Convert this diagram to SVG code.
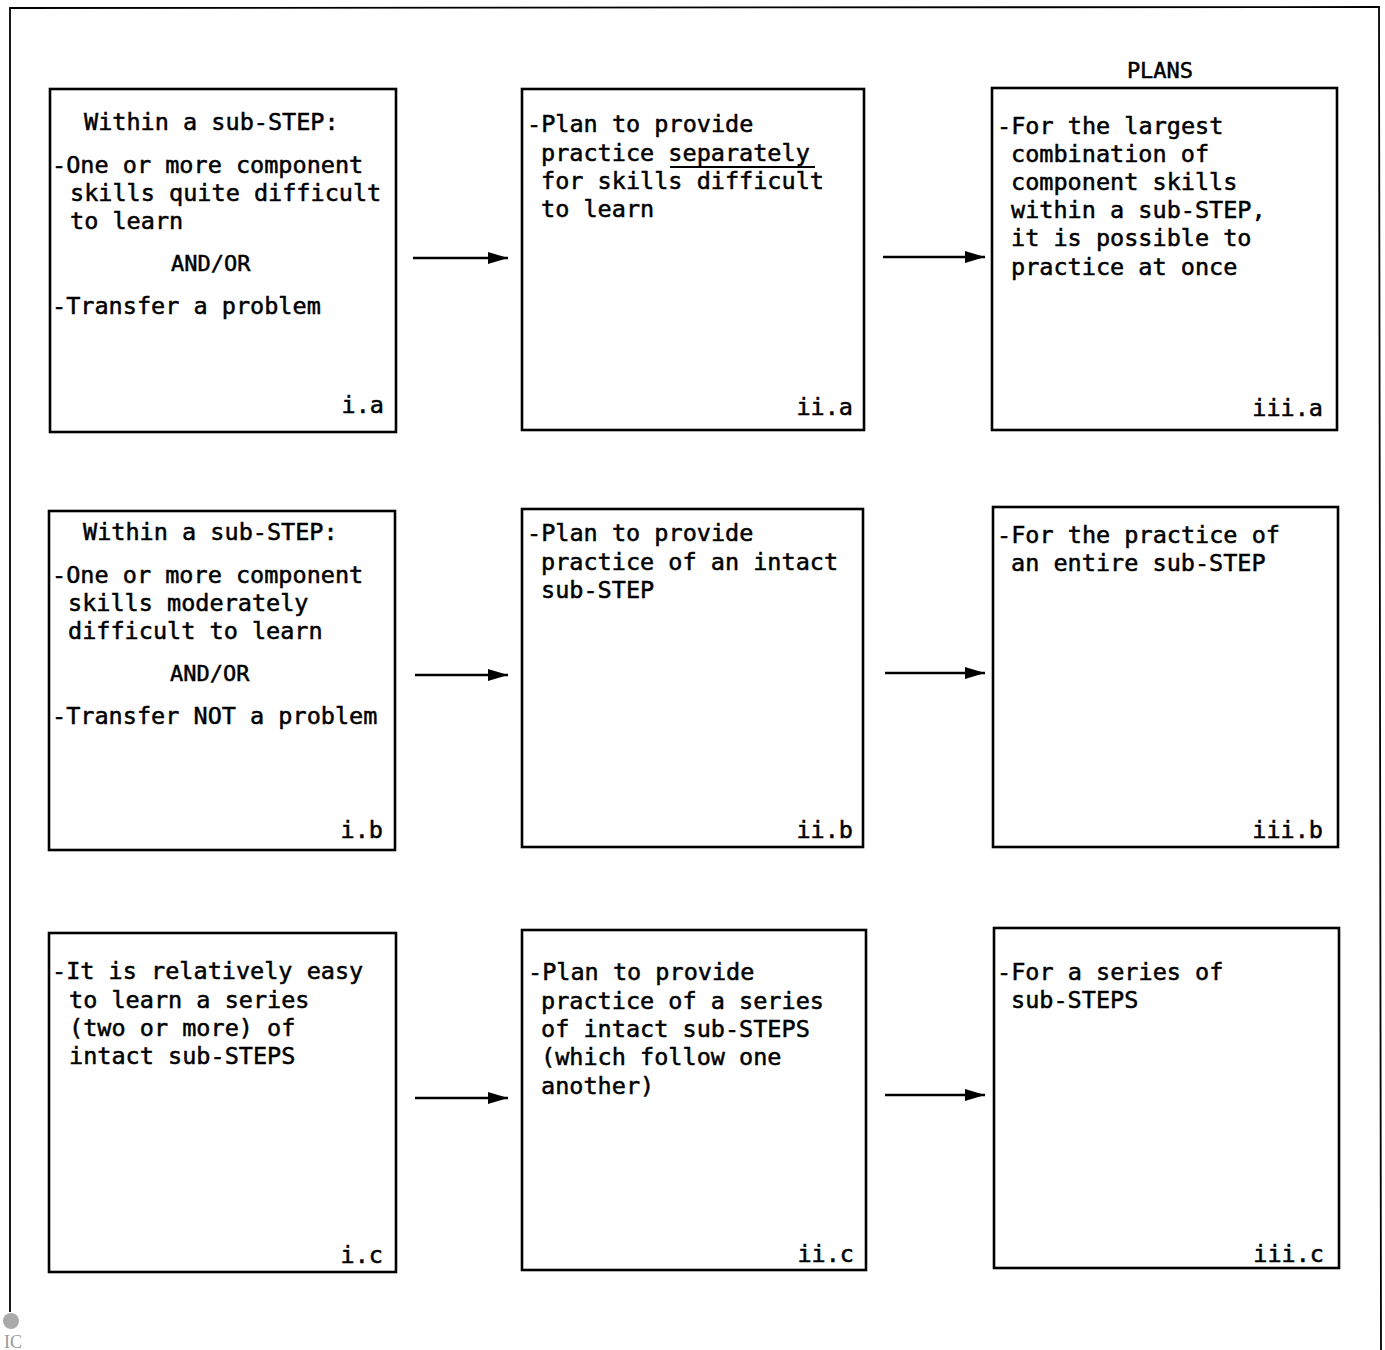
<svg xmlns="http://www.w3.org/2000/svg" width="1385" height="1350" viewBox="0 0 1385 1350">
<style>
.box{fill:#fff;stroke:#000;stroke-width:2.6}
.t{font-family:"DejaVu Sans Mono","Liberation Mono",monospace;font-size:23.5px;fill:#000;stroke:#000;stroke-width:0.5}
.s{font-size:22px}
.lab{text-anchor:end}
.frame{fill:none;stroke:#000;stroke-width:1.8}
.arr{stroke:#000;stroke-width:2.6;fill:none;marker-end:url(#ah)}
</style>
<defs>
<marker id="ah" markerUnits="userSpaceOnUse" markerWidth="22" markerHeight="14" refX="20" refY="7" orient="auto">
<path d="M0,1 L20,7 L0,13 Z" fill="#000"/>
</marker>
</defs>
<rect width="1385" height="1350" fill="#fff"/>
<path class="frame" d="M10,1312 L10,8 L1379,7 L1381,1350"/>
<g id="logo">
<circle cx="11" cy="1321" r="8" fill="#aaa"/>
<text x="4" y="1348" font-family="Liberation Serif,serif" font-size="18" fill="#999">IC</text>
</g>
<text class="t" x="1160" y="78" text-anchor="middle" style="font-size:22px">PLANS</text>

<g id="n-ia">
<rect class="box" x="50" y="89" width="346" height="343"/>
<text class="t" x="84" y="130">Within a sub-STEP:</text>
<text class="t" x="52" y="173">-One or more component</text>
<text class="t" x="70" y="201">skills quite difficult</text>
<text class="t" x="70" y="229">to learn</text>
<text class="t s" x="171" y="271">AND/OR</text>
<text class="t" x="52" y="314">-Transfer a problem</text>
<text class="t lab" x="384" y="413">i.a</text>
</g>
<g id="n-iia">
<rect class="box" x="522" y="89" width="342" height="341"/>
<text class="t" x="527" y="132">-Plan to provide</text>
<text class="t" x="541" y="161">practice separately</text>
<line x1="670" y1="167" x2="815" y2="167" stroke="#000" stroke-width="2"/>
<text class="t" x="541" y="189">for skills difficult</text>
<text class="t" x="541" y="217">to learn</text>
<text class="t lab" x="853" y="415">ii.a</text>
</g>
<g id="n-iiia">
<rect class="box" x="992" y="88" width="345" height="342"/>
<text class="t" x="997" y="134">-For the largest</text>
<text class="t" x="1011" y="162">combination of</text>
<text class="t" x="1011" y="190">component skills</text>
<text class="t" x="1011" y="218">within a sub-STEP,</text>
<text class="t" x="1011" y="246">it is possible to</text>
<text class="t" x="1011" y="275">practice at once</text>
<text class="t lab" x="1323" y="416">iii.a</text>
</g>

<g id="n-ib">
<rect class="box" x="49" y="511" width="346" height="339"/>
<text class="t" x="83" y="540">Within a sub-STEP:</text>
<text class="t" x="52" y="583">-One or more component</text>
<text class="t" x="68" y="611">skills moderately</text>
<text class="t" x="68" y="639">difficult to learn</text>
<text class="t s" x="170" y="681">AND/OR</text>
<text class="t" x="52" y="724">-Transfer NOT a problem</text>
<text class="t lab" x="383" y="838">i.b</text>
</g>
<g id="n-iib">
<rect class="box" x="522" y="509" width="341" height="338"/>
<text class="t" x="527" y="541">-Plan to provide</text>
<text class="t" x="541" y="570">practice of an intact</text>
<text class="t" x="541" y="598">sub-STEP</text>
<text class="t lab" x="853" y="838">ii.b</text>
</g>
<g id="n-iiib">
<rect class="box" x="993" y="507" width="345" height="340"/>
<text class="t" x="997" y="543">-For the practice of</text>
<text class="t" x="1011" y="571">an entire sub-STEP</text>
<text class="t lab" x="1323" y="838">iii.b</text>
</g>

<g id="n-ic">
<rect class="box" x="49" y="933" width="347" height="339"/>
<text class="t" x="52" y="979">-It is relatively easy</text>
<text class="t" x="69" y="1008">to learn a series</text>
<text class="t" x="69" y="1036">(two or more) of</text>
<text class="t" x="69" y="1064">intact sub-STEPS</text>
<text class="t lab" x="383" y="1263">i.c</text>
</g>
<g id="n-iic">
<rect class="box" x="522" y="930" width="344" height="340"/>
<text class="t" x="528" y="980">-Plan to provide</text>
<text class="t" x="541" y="1009">practice of a series</text>
<text class="t" x="541" y="1037">of intact sub-STEPS</text>
<text class="t" x="541" y="1065">(which follow one</text>
<text class="t" x="541" y="1094">another)</text>
<text class="t lab" x="854" y="1262">ii.c</text>
</g>
<g id="n-iiic">
<rect class="box" x="994" y="928" width="345" height="340"/>
<text class="t" x="997" y="980">-For a series of</text>
<text class="t" x="1011" y="1008">sub-STEPS</text>
<text class="t lab" x="1324" y="1262">iii.c</text>
</g>

<g id="connectors">
<line class="arr" x1="413" y1="258" x2="508" y2="258"/>
<line class="arr" x1="883" y1="257" x2="985" y2="257"/>
<line class="arr" x1="415" y1="675" x2="508" y2="675"/>
<line class="arr" x1="885" y1="673" x2="985" y2="673"/>
<line class="arr" x1="415" y1="1098" x2="508" y2="1098"/>
<line class="arr" x1="885" y1="1095" x2="985" y2="1095"/>
</g>
</svg>
